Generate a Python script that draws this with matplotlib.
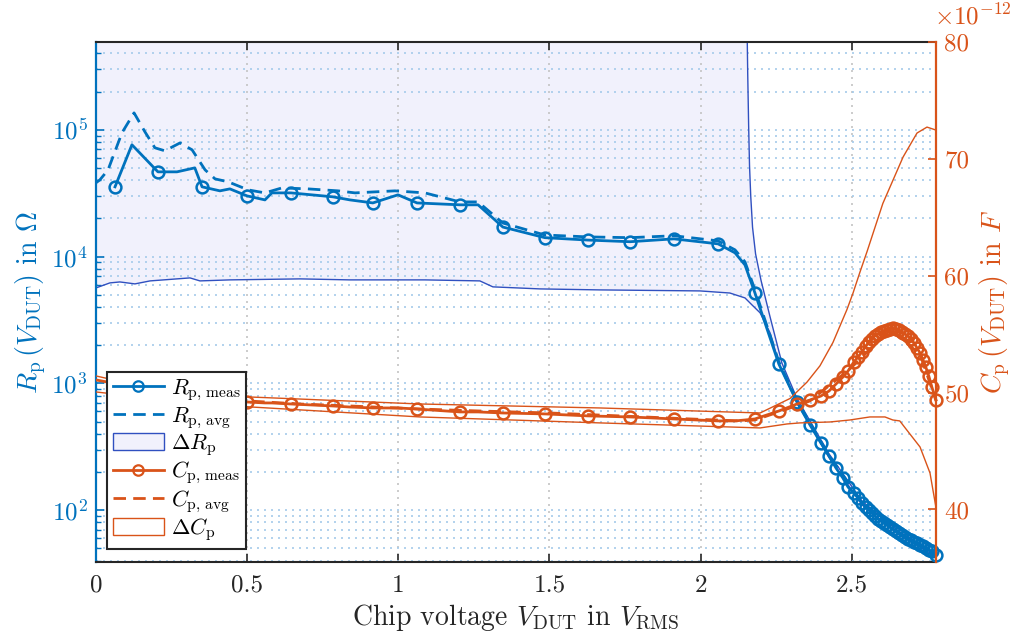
import numpy as np
import matplotlib
matplotlib.use('Agg')
import matplotlib.pyplot as plt
from matplotlib.lines import Line2D
from matplotlib.patches import Patch
from matplotlib.ticker import LogLocator, FixedLocator, FuncFormatter, NullFormatter

plt.rcParams['font.family'] = 'serif'
plt.rcParams['font.serif'] = ['cmr10']
plt.rcParams['mathtext.fontset'] = 'cm'
plt.rcParams['axes.formatter.use_mathtext'] = True
plt.rcParams['axes.unicode_minus'] = False

# ---------------- data ----------------
# common measurement voltages (V_RMS)
V = [0.063, 0.119, 0.205, 0.268, 0.327, 0.351, 0.410, 0.443, 0.500, 0.559, 0.582, 0.645,
     0.784, 0.840, 0.916, 0.999, 1.062, 1.204, 1.264, 1.346, 1.485, 1.627, 1.767, 1.912,
     2.058, 2.114, 2.147, 2.180, 2.259, 2.319, 2.362, 2.398, 2.425, 2.448, 2.471, 2.488,
     2.507, 2.521, 2.534, 2.547, 2.557, 2.567, 2.577, 2.587, 2.597, 2.607, 2.617, 2.626,
     2.636, 2.646, 2.656, 2.666, 2.676, 2.686, 2.696, 2.706, 2.716, 2.726, 2.736, 2.745,
     2.755, 2.765, 2.779]
R_meas = [35500, 76200, 46600, 46600, 50100, 35500, 33000, 34200, 30100, 28000, 31800, 31800,
          29600, 28000, 26500, 30700, 26500, 25600, 25600, 17100, 14100, 13500, 13100, 13800,
          12600, 10700, 8590, 5160, 1420, 713, 470, 339, 267, 215, 179, 152,
          136, 125, 114, 106, 100, 94.6, 89.7, 84.9, 81.8, 78.9, 76.2, 73.4,
          70.8, 68.2, 65.8, 63.5, 61.2, 59.0, 58.0, 56.0, 54.9, 52.9, 52.0, 50.1,
          48.4, 47.5, 44.2]
C_meas = [50.92, 50.57, 50.23, 49.97, 49.80, 49.71, 49.46, 49.37, 49.20, 49.12, 49.12, 49.03,
          48.86, 48.77, 48.69, 48.69, 48.60, 48.35, 48.35, 48.26, 48.18, 48.01, 47.92, 47.75,
          47.58, 47.58, 47.66, 47.75, 48.43, 49.03, 49.37, 49.71, 50.14, 50.74, 51.34, 51.86,
          52.63, 53.06, 53.49, 54.00, 54.34, 54.60, 54.86, 55.03, 55.20, 55.29, 55.37, 55.46,
          55.54, 55.46, 55.37, 55.20, 55.03, 54.86, 54.60, 54.26, 53.83, 53.40, 52.80, 52.20,
          51.43, 50.49, 49.37]  # in pF
# voltages where markers are shown (low range); all points above 2.3 V carry markers
V_marker = [0.063, 0.205, 0.351, 0.500, 0.645, 0.784, 0.916, 1.062, 1.204, 1.346, 1.485,
            1.627, 1.767, 1.912, 2.058, 2.180, 2.259]

V_Ravg = [0.000, 0.013, 0.040, 0.086, 0.126, 0.162, 0.195, 0.228, 0.278, 0.318, 0.361, 0.394,
          0.437, 0.503, 0.559, 0.615, 0.701, 0.801, 0.857, 0.989, 1.088, 1.204, 1.264, 1.346,
          1.485, 1.627, 1.767, 1.912, 2.058, 2.114, 2.147, 2.180, 2.259, 2.319, 2.425, 2.534,
          2.656, 2.779]
R_avg = [38200, 40300, 48300, 94700, 136000, 96400, 72100, 68300, 78800, 69500, 48300, 41000,
         38900, 33600, 31800, 34800, 34200, 33000, 31800, 33000, 31800, 27000, 27000, 18400,
         14800, 14300, 14100, 14600, 13300, 11300, 9080, 5460, 1480, 730, 270, 115,
         66, 44.5]

V_Rlo = [0.000, 0.046, 0.079, 0.129, 0.179, 0.311, 0.344, 0.443, 0.675, 0.840, 1.088, 1.270,
         1.313, 1.469, 1.667, 1.998, 2.097, 2.147, 2.170, 2.197, 2.230, 2.263, 2.319, 2.425,
         2.534, 2.656, 2.779]
R_lo = [5660, 6200, 6310, 6090, 6430, 6790, 6430, 6550, 6670, 6550, 6550, 6430,
        5770, 5560, 5460, 5360, 5160, 4720, 4160, 3600, 2500, 1350, 700, 260,
        110, 64, 43]
V_Rhi = [0.000, 2.148, 2.153, 2.156, 2.159, 2.162, 2.166, 2.172, 2.182, 2.200, 2.230, 2.269,
         2.319, 2.425, 2.534, 2.656, 2.779]
R_hi = [5e6, 5e6, 9e5, 2.8e5, 1.1e5, 52000, 30000, 17000, 10500, 6500, 3340, 1450,
        760, 278, 118, 68, 45.5]

V_Cavg = [0.000, 0.179, 0.344, 0.503, 0.675, 0.840, 1.072, 1.270, 1.502, 1.733, 1.965, 2.130,
          2.180, 2.259, 2.362, 2.494, 2.626, 2.726, 2.779]
C_avg = [51.09, 50.23, 49.63, 49.29, 49.03, 48.86, 48.60, 48.43, 48.26, 48.01, 47.75, 47.58,
         47.66, 48.35, 49.29, 52.03, 55.37, 53.31, 49.29]

V_Chi = [0.000, 0.179, 0.509, 1.072, 1.667, 2.197, 2.296, 2.352, 2.395, 2.438, 2.484, 2.504,
         2.527, 2.551, 2.570, 2.603, 2.670, 2.716, 2.749, 2.769, 2.779]
C_hi = [51.43, 50.40, 49.63, 49.03, 48.69, 48.26, 49.50, 50.90, 52.30, 54.30, 57.10, 58.50,
        60.30, 62.10, 63.60, 66.20, 70.18, 72.23, 72.74, 72.57, 72.48]
V_Clo = [0.000, 0.179, 0.509, 1.072, 1.667, 2.197, 2.286, 2.329, 2.428, 2.494, 2.560, 2.610,
         2.636, 2.659, 2.682, 2.726, 2.759, 2.779]
C_lo = [50.06, 49.54, 48.78, 47.92, 47.41, 46.98, 47.32, 47.41, 47.49, 47.66, 47.92, 47.92,
        47.66, 47.58, 46.81, 45.35, 43.12, 40.13]

x_ticks = [0, 0.5, 1, 1.5, 2, 2.5]
c_ticks = [40, 50, 60, 70, 80]

# ---------------- style ----------------
BLUE = '#0072BD'
ORANGE = '#D95319'
EDGE_BLUE = '#3050C0'
FILL = '#F1F1FC'
DARK = '#262626'
GRID_BLUE = '#A6CBEA'
GRID_GRAY = '#C4C4C4'
pF = 1e-12
TICK_FS = 18
LABEL_FS = 20

V = np.array(V)
marks = [i for i, v in enumerate(V) if np.any(np.isclose(v, V_marker)) or v > 2.3]

fig = plt.figure(figsize=(10.23, 6.39), dpi=100)
ax1 = fig.add_axes([0.0938, 0.1205, 0.915 - 0.0938, 0.9338 - 0.1205])
ax2 = ax1.twinx()

# resistance band
poly_x = np.concatenate([V_Rlo, V_Rhi[::-1]])
poly_y = np.concatenate([R_lo, R_hi[::-1]])
ax1.fill(poly_x, poly_y, color=FILL, lw=0, zorder=0.2)
ax1.plot(V_Rlo, R_lo, color=EDGE_BLUE, lw=1.0, zorder=1.5)
ax1.plot(V_Rhi, R_hi, color=EDGE_BLUE, lw=1.0, zorder=1.5)
ax1.plot(V, R_meas, color=BLUE, lw=2.0, marker='o', ms=8.5, mfc='none', mec=BLUE, mew=1.8,
         markevery=marks, zorder=3, clip_on=False)
ax1.plot(V_Ravg, R_avg, color=BLUE, lw=2.0, dashes=(4.5, 2.6), zorder=2.5)

ax1.set_yscale('log')
ax1.set_ylim(39, 4.9e5)
ax1.set_xlim(0, 2.779)
ax1.set_axisbelow(True)

# capacitance
ax2.plot(V_Chi, np.array(C_hi) * pF, color=ORANGE, lw=1.0)
ax2.plot(V_Clo, np.array(C_lo) * pF, color=ORANGE, lw=1.0)
ax2.plot(V, np.array(C_meas) * pF, color=ORANGE, lw=2.0, marker='o', ms=8.5, mfc='none',
         mec=ORANGE, mew=1.8, markevery=marks, zorder=3, clip_on=False)
ax2.plot(V_Cavg, np.array(C_avg) * pF, color=ORANGE, lw=2.0, dashes=(4.5, 2.6), zorder=2.5)
ax2.set_ylim(35.5 * pF, 80 * pF)
ax2.yaxis.set_major_locator(FixedLocator([c * pF for c in c_ticks]))
ax2.yaxis.set_major_formatter(FuncFormatter(lambda v, p: '%g' % round(v / pF, 6)))
ax2.text(0.997, 1.024, r'$\times10^{-12}$', transform=ax2.transAxes, ha='left', va='bottom',
         color=ORANGE, fontsize=TICK_FS)

# ticks / spines
ax1.xaxis.set_major_locator(FixedLocator(x_ticks))
ax1.xaxis.set_major_formatter(FuncFormatter(lambda v, p: '%g' % v))
ax1.yaxis.set_major_locator(LogLocator(base=10, numticks=10))
ax1.yaxis.set_minor_locator(LogLocator(base=10, subs=np.arange(2, 10), numticks=20))
ax1.yaxis.set_minor_formatter(NullFormatter())

ax1.tick_params(axis='x', which='both', direction='in', top=True, bottom=True, length=6,
                width=1.2, colors=DARK, labelsize=TICK_FS, pad=9)
ax1.tick_params(axis='y', which='major', direction='in', left=True, right=False, length=6,
                width=1.2, colors=BLUE, labelsize=TICK_FS, pad=6)
ax1.tick_params(axis='y', which='minor', direction='in', left=True, right=False, length=3.5,
                width=1.0, colors=BLUE)
ax2.tick_params(axis='y', which='major', direction='in', right=True, left=False, length=6,
                width=1.2, colors=ORANGE, labelsize=TICK_FS, pad=6)
ax2.tick_params(axis='y', which='minor', right=False)

for s in ('top', 'bottom'):
    ax1.spines[s].set_color(DARK)
    ax1.spines[s].set_linewidth(1.5)
    ax2.spines[s].set_visible(False)
ax1.spines['left'].set_color(BLUE)
ax1.spines['left'].set_linewidth(1.6)
ax1.spines['right'].set_visible(False)
ax2.spines['left'].set_visible(False)
ax2.spines['right'].set_color(ORANGE)
ax2.spines['right'].set_linewidth(1.6)

# grids
ax1.grid(axis='x', which='major', color=GRID_GRAY, ls=(0, (1.2, 3.0)), lw=1.2)
ax1.grid(axis='y', which='both', color=GRID_BLUE, ls=(0, (1.2, 3.0)), lw=1.2)

# labels
ax1.set_xlabel(r'Chip voltage $V_{\mathrm{DUT}}$ in $V_{\mathrm{RMS}}$', fontsize=LABEL_FS,
               color=DARK, labelpad=4)
ax1.set_ylabel(r'$R_{\mathrm{p}}\,(V_{\mathrm{DUT}})$ in $\Omega$', fontsize=LABEL_FS,
               color=BLUE, labelpad=2)
ax2.set_ylabel(r'$C_{\mathrm{p}}\,(V_{\mathrm{DUT}})$ in $F$', fontsize=LABEL_FS,
               color=ORANGE, labelpad=6)

# legend
handles = [
    Line2D([], [], color=BLUE, lw=2.0, marker='o', ms=7.5, mfc='none', mec=BLUE, mew=1.6),
    Line2D([], [], color=BLUE, lw=2.0, dashes=(4.5, 2.6)),
    Patch(facecolor=FILL, edgecolor=EDGE_BLUE, lw=1.0),
    Line2D([], [], color=ORANGE, lw=2.0, marker='o', ms=7.5, mfc='none', mec=ORANGE, mew=1.6),
    Line2D([], [], color=ORANGE, lw=2.0, dashes=(4.5, 2.6)),
    Patch(facecolor='white', edgecolor=ORANGE, lw=1.0),
]
labels = [r'$R_{\mathrm{p,\,meas}}$', r'$R_{\mathrm{p,\,avg}}$', r'$\Delta R_{\mathrm{p}}$',
          r'$C_{\mathrm{p,\,meas}}$', r'$C_{\mathrm{p,\,avg}}$', r'$\Delta C_{\mathrm{p}}$']
leg = ax2.legend(handles, labels, loc='lower left', bbox_to_anchor=(0.0135, 0.025),
                 borderaxespad=0, fontsize=16, frameon=True, fancybox=False,
                 edgecolor=DARK, framealpha=1, handlelength=2.3, handletextpad=0.3,
                 labelspacing=0.08, borderpad=0.25, handleheight=0.8)
leg.get_frame().set_linewidth(1.5)

fig.savefig('out.png', dpi=100)
